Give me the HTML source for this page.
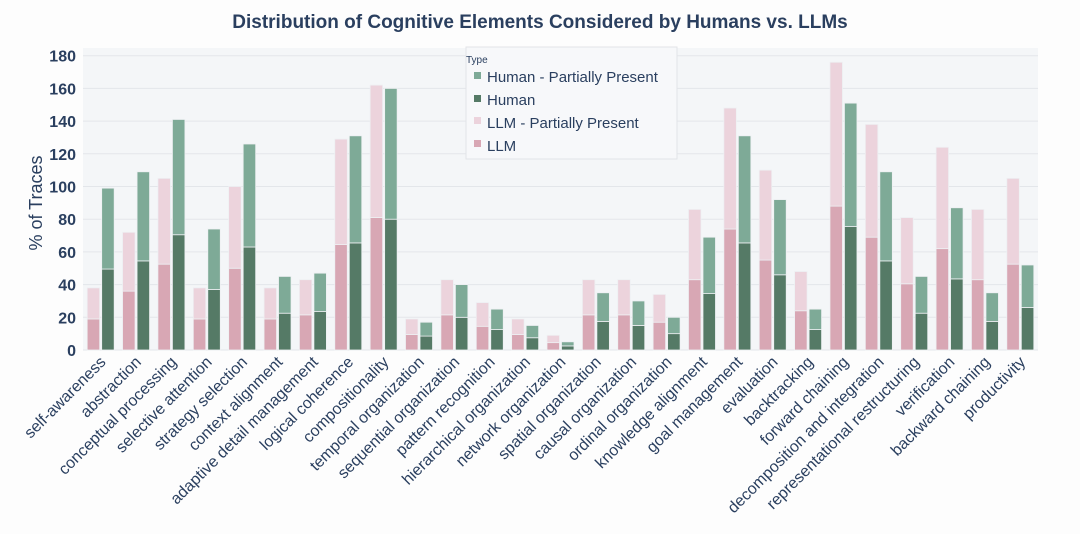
<!DOCTYPE html>
<html><head><meta charset="utf-8"><style>
body{margin:0;background:#fff;}
svg{display:block;font-family:"Liberation Sans",sans-serif;}
</style></head><body>
<svg id="chart" width="1080" height="534">
<rect x="0" y="0" width="1080" height="534" fill="#fdfdfd"/>
<rect x="83" y="48" width="955" height="302" fill="#f4f6f8"/>
<text x="540" y="28" text-anchor="middle" font-size="19" font-weight="bold" fill="#2a3f5f">Distribution of Cognitive Elements Considered by Humans vs. LLMs</text>
<text transform="translate(42,203) rotate(-90)" text-anchor="middle" font-size="18" fill="#2a3f5f">% of Traces</text>
<g id="grid"></g><g id="bars"></g><g id="xlabels"></g><g id="ylabels"></g>
<g>
<rect x="466" y="47" width="211" height="112" fill="#f7f8fa" stroke="#e2e4e8"/>
<text x="466" y="63" font-size="10" fill="#2a3f5f">Type</text>
<g><rect x="474" y="72" width="7" height="7" fill="#7eaa97"/><text x="487" y="82" font-size="15" fill="#2a3f5f">Human - Partially Present</text></g>
<g><rect x="474" y="95" width="7" height="7" fill="#557a66"/><text x="487" y="105" font-size="15" fill="#2a3f5f">Human</text></g>
<g><rect x="474" y="117" width="7" height="7" fill="#ecd3dc"/><text x="487" y="128" font-size="15" fill="#2a3f5f">LLM - Partially Present</text></g>
<g><rect x="474" y="140" width="7" height="7" fill="#d8a7b4"/><text x="487" y="151" font-size="15" fill="#2a3f5f">LLM</text></g>
</g>
</svg>
<script>
const categories=["self-awareness","abstraction","conceptual processing","selective attention","strategy selection","context alignment","adaptive detail management","logical coherence","compositionality","temporal organization","sequential organization","pattern recognition","hierarchical organization","network organization","spatial organization","causal organization","ordinal organization","knowledge alignment","goal management","evaluation","backtracking","forward chaining","decomposition and integration","representational restructuring","verification","backward chaining","productivity"];
const llmFull=[19,36,52.5,19,50,19,21.5,64.5,81,9.5,21.5,14.5,9.5,4.5,21.5,21.5,17,43,74,55,24,88,69,40.5,62,43,52.5];
const llmPartial=[19,36,52.5,19,50,19,21.5,64.5,81,9.5,21.5,14.5,9.5,4.5,21.5,21.5,17,43,74,55,24,88,69,40.5,62,43,52.5];
const humanFull=[49.5,54.5,70.5,37,63,22.5,23.5,65.5,80,8.5,20,12.5,7.5,2.5,17.5,15,10,34.5,65.5,46,12.5,75.5,54.5,22.5,43.5,17.5,26];
const humanPartial=[49.5,54.5,70.5,37,63,22.5,23.5,65.5,80,8.5,20,12.5,7.5,2.5,17.5,15,10,34.5,65.5,46,12.5,75.5,54.5,22.5,43.5,17.5,26];
const yTicks=[0,20,40,60,80,100,120,140,160,180];
const NS="http://www.w3.org/2000/svg";
const x0=83,x1=1038,y0=350,yTop=55.7,yMax=180;
const step=(x1-x0)/categories.length;
const xc=i=>x0+step*(i+0.5);
const ys=v=>y0-(y0-yTop)*v/yMax;
function mk(tag,attrs,parent){const e=document.createElementNS(NS,tag);for(const k in attrs)e.setAttribute(k,attrs[k]);parent.appendChild(e);return e;}
const grid=document.getElementById('grid'),bars=document.getElementById('bars'),xl=document.getElementById('xlabels'),yl=document.getElementById('ylabels');
yTicks.forEach(t=>{
 const l=mk('line',{x1:x0,x2:x1,y1:ys(t),y2:ys(t),stroke:'#e3e6ea','stroke-width':1},grid);
 
 
 const tx=mk('text',{x:76,y:ys(t)+6,'text-anchor':'end','font-size':16,'font-weight':'bold',fill:'#2a3f5f'},yl);
 tx.textContent=t;
 
 
});
const bw=12.5;
categories.forEach((c,i)=>{
 const cx=xc(i);
 const segs=[[cx-bw-1,0,llmFull[i],'#d8a7b4','bar-llm'],[cx-bw-1,llmFull[i],llmFull[i]+llmPartial[i],'#ecd3dc','bar-llm-partial'],[cx+1,0,humanFull[i],'#557a66','bar-human'],[cx+1,humanFull[i],humanFull[i]+humanPartial[i],'#7eaa97','bar-human-partial']];
 segs.forEach(s=>{
  const r=mk('rect',{x:s[0],y:ys(s[2]),width:bw,height:ys(s[1])-ys(s[2]),fill:s[3],stroke:'#eef0f3','stroke-width':0.8},bars);
  
  
 });
 const t=mk('text',{transform:`translate(${cx+6},${363}) rotate(-45)`,'text-anchor':'end','font-size':16,fill:'#2a3f5f'},xl);
 t.textContent=c;
 
 
});
</script>
</body></html>
